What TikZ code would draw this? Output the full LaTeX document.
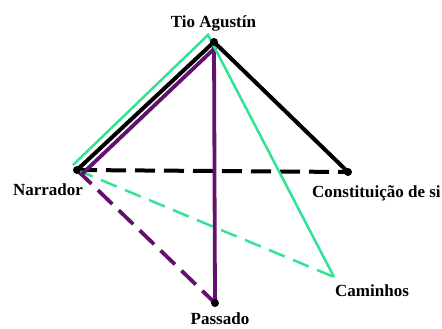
\documentclass[tikz,border=0pt]{standalone}
\usepackage{fontspec}
\setmainfont{Liberation Serif}
\usetikzlibrary{positioning,calc,backgrounds}
\definecolor{verde}{RGB}{52,226,150}
\definecolor{roxo}{RGB}{98,18,108}

\begin{document}
\begin{tikzpicture}[
    x=1pt, y=-1pt,
    ponto/.style={circle, fill=black, inner sep=0pt, minimum size=8pt},
    rotulo/.style={font=\fontsize{17}{20}\selectfont\bfseries, inner sep=0pt},
    preto/.style={black, line width=4pt},
    lilas/.style={roxo, line width=3.8pt},
    claro/.style={verde, line width=2.5pt},
    tracejado/.style={dash pattern=on 20pt off 9pt}
]
    \useasboundingbox (0,0) rectangle (442,329);

    \node[ponto] (tio) at (214,42) {};
    \node[ponto] (narrador) at (77,170) {};
    \node[ponto] (constituicao) at (348,172) {};
    \node[ponto] (passado) at (215,303) {};
    \coordinate (caminhos) at (334,277);

    % parallel copies of Tio -- Narrador
    \coordinate (apice) at (208,35);
    \coordinate (narrverde) at (73,165);
    \coordinate (tioroxo) at (216,47);
    \coordinate (narrroxo) at (81,175);

    % labels
    \node[rotulo, anchor=base] (ltio) at (213.5,28) {Tio Agustín};
    \node[rotulo, anchor=base] (lnarrador) at (48,195) {Narrador};
    \node[rotulo, anchor=base west] (lconst) at (312,197) {Constituição de si};
    \node[rotulo, anchor=base west] (lcaminhos) at (335,296) {Caminhos};
    \node[rotulo, anchor=base] (lpassado) at (220,324) {Passado};

    \begin{scope}[on background layer]
    % dashed
    \draw[preto, tracejado] (narrador.center) -- (constituicao.center);
    \draw[lilas, tracejado] (narrador.center) -- (passado.center);
    \draw[claro, dash pattern=on 17pt off 9pt] (narrador.center) -- (caminhos);

    % solid
    \draw[preto] (constituicao.center) -- (tio.center) -- (narrador.center);
    \draw[lilas] (narrroxo) -- (tioroxo);
    \draw[lilas] (tio.center) -- (passado.center);
    \draw[claro, line join=miter] (narrverde) -- (apice) -- (caminhos);
    \end{scope}
\end{tikzpicture}
\end{document}
